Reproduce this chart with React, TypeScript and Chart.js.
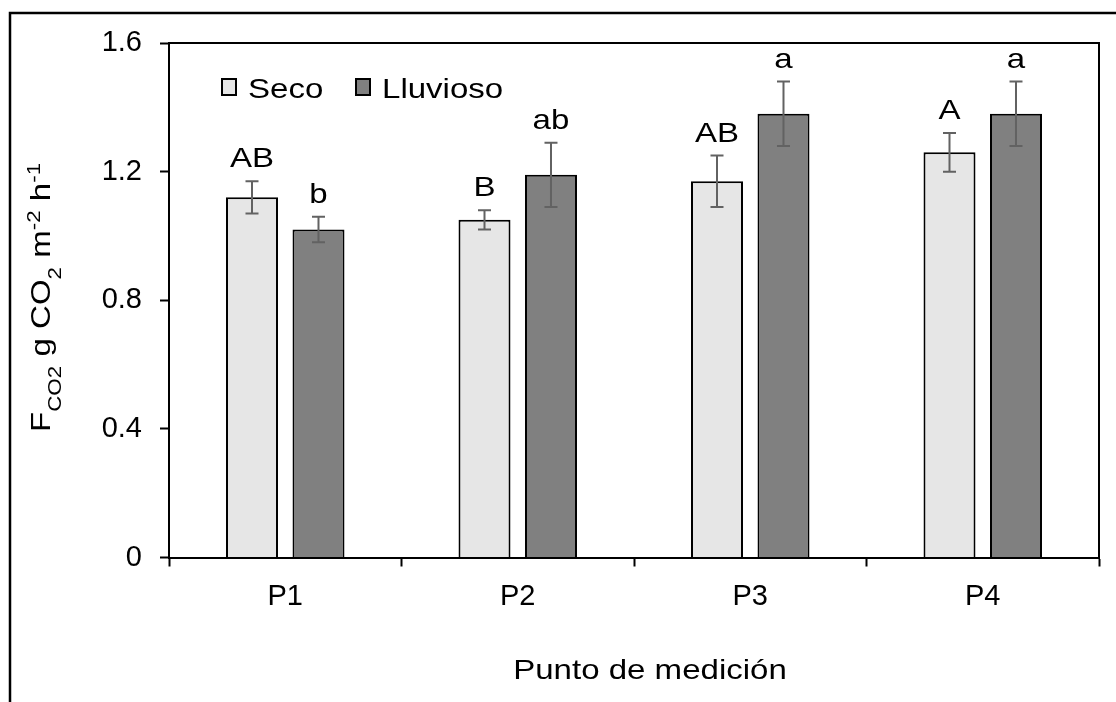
import React, { useEffect, useRef } from 'react';
import { Chart, registerables } from 'chart.js';

Chart.register(...registerables);

// ---- data ----
const categories = ['P1', 'P2', 'P3', 'P4'];
const seriesNames = ['Seco', 'Lluvioso'];
const secoValues = [1.12, 1.05, 1.17, 1.26];
const lluviosoValues = [1.02, 1.19, 1.38, 1.38];
const secoErrors = [0.05, 0.03, 0.08, 0.06];
const lluviosoErrors = [0.04, 0.10, 0.10, 0.10];
const secoLetters = ['AB', 'B', 'AB', 'A'];
const lluviosoLetters = ['b', 'ab', 'a', 'a'];
const yTickValues = [0, 0.4, 0.8, 1.2, 1.6];
const yTickLabels = ['0', '0.4', '0.8', '1.2', '1.6'];
const xTitle = 'Punto de medición';
const yTitleParts = [
  { text: 'F', kind: 'main' },
  { text: 'CO2', kind: 'sub' },
  { text: ' g CO', kind: 'main' },
  { text: '2', kind: 'sub' },
  { text: ' m', kind: 'main' },
  { text: '-2', kind: 'sup' },
  { text: ' h', kind: 'main' },
  { text: '-1', kind: 'sup' },
];

const FAMILY = '"Liberation Sans", Arial, sans-serif';
const SX = 1.18; // horizontal widening of text
const MAIN = 28;
const SMALL = 19;

function drawText(ctx: CanvasRenderingContext2D, text: string, x: number, y: number, align: CanvasTextAlign, size = MAIN) {
  ctx.save();
  ctx.font = `${size}px ${FAMILY}`;
  ctx.fillStyle = '#000';
  ctx.textBaseline = 'alphabetic';
  ctx.textAlign = align;
  ctx.translate(x, y);
  ctx.scale(SX, 1);
  ctx.fillText(text, 0, 0);
  ctx.restore();
}

const decorPlugin = {
  id: 'decor',
  afterDatasetsDraw(chart: any) {
    const ctx: CanvasRenderingContext2D = chart.ctx;
    const ys = chart.scales.y;
    chart.data.datasets.forEach((ds: any, i: number) => {
      const meta = chart.getDatasetMeta(i);
      meta.data.forEach((bar: any, j: number) => {
        const v = ds.data[j];
        const e = ds.errors[j];
        const x = bar.x;
        const yt = ys.getPixelForValue(v + e);
        const yb = ys.getPixelForValue(v - e);
        ctx.save();
        ctx.strokeStyle = '#626262';
        ctx.lineWidth = 2;
        ctx.beginPath();
        ctx.moveTo(x, yt);
        ctx.lineTo(x, yb);
        ctx.moveTo(x - 6.5, yt);
        ctx.lineTo(x + 6.5, yt);
        ctx.moveTo(x - 6.5, yb);
        ctx.lineTo(x + 6.5, yb);
        ctx.stroke();
        ctx.restore();
        drawText(ctx, ds.letters[j], x, yt - 14, 'center');
      });
    });
  },
  afterDraw(chart: any) {
    const ctx: CanvasRenderingContext2D = chart.ctx;
    const a = chart.chartArea;
    // plot box top & right
    ctx.save();
    ctx.strokeStyle = '#000';
    ctx.lineWidth = 2;
    ctx.beginPath();
    ctx.moveTo(a.left, a.top);
    ctx.lineTo(a.right, a.top);
    ctx.lineTo(a.right, a.bottom);
    ctx.stroke();
    // outer frame (left & top)
    ctx.lineWidth = 2.5;
    ctx.beginPath();
    ctx.moveTo(10, chart.height);
    ctx.lineTo(10, 13);
    ctx.lineTo(chart.width, 13);
    ctx.stroke();
    ctx.restore();

    // legend
    const fills = chart.data.datasets.map((d: any) => d.backgroundColor);
    const boxX = [a.left + 53, a.left + 187];
    const textX = [a.left + 79, a.left + 213];
    seriesNames.forEach((name, i) => {
      ctx.save();
      ctx.fillStyle = fills[i];
      ctx.strokeStyle = '#000';
      ctx.lineWidth = 2;
      ctx.fillRect(boxX[i], a.top + 36, 14, 16);
      ctx.strokeRect(boxX[i], a.top + 36, 14, 16);
      ctx.restore();
      drawText(ctx, name, textX[i], a.top + 54.5, 'left');
    });

    // x title
    drawText(ctx, xTitle, 650, 679, 'center');

    // y title (rotated, with sub/superscripts)
    ctx.save();
    ctx.translate(50, 432);
    ctx.rotate(-Math.PI / 2);
    ctx.scale(SX, 1);
    ctx.fillStyle = '#000';
    ctx.textAlign = 'left';
    ctx.textBaseline = 'alphabetic';
    let cx = 0;
    yTitleParts.forEach((p) => {
      const size = p.kind === 'main' ? MAIN : SMALL;
      const dy = p.kind === 'sub' ? 11 : p.kind === 'sup' ? -10 : 0;
      ctx.font = `${size}px ${FAMILY}`;
      ctx.fillText(p.text, cx, dy);
      cx += ctx.measureText(p.text).width;
    });
    ctx.restore();
  },
};

export default function App() {
  const ref = useRef<HTMLCanvasElement>(null);
  useEffect(() => {
    if (!ref.current) return;
    const chart = new Chart(ref.current, {
      type: 'bar',
      data: {
        labels: categories,
        datasets: [
          {
            label: seriesNames[0],
            data: secoValues,
            errors: secoErrors,
            letters: secoLetters,
            backgroundColor: '#E6E6E6',
            borderColor: '#000',
            borderWidth: 2,
            categoryPercentage: 0.572,
            barPercentage: 0.782,
          } as any,
          {
            label: seriesNames[1],
            data: lluviosoValues,
            errors: lluviosoErrors,
            letters: lluviosoLetters,
            backgroundColor: '#808080',
            borderColor: '#000',
            borderWidth: 2,
            categoryPercentage: 0.572,
            barPercentage: 0.782,
          } as any,
        ],
      },
      options: {
        responsive: false,
        animation: false,
        devicePixelRatio: 1,
        layout: { padding: { top: 43, right: 17, left: 0, bottom: 0 } },
        plugins: { legend: { display: false }, tooltip: { enabled: false } },
        scales: {
          x: {
            offset: true,
            grid: {
              offset: true,
              drawOnChartArea: false,
              drawTicks: true,
              tickLength: 9,
              tickWidth: 2,
              tickColor: '#000',
            },
            border: { display: true, color: '#000', width: 2 },
            ticks: {
              color: '#000',
              font: { family: FAMILY, size: 29 },
              padding: 13,
              maxRotation: 0,
              autoSkip: false,
            },
            afterFit: (s: any) => {
              s.height = 144.5;
            },
          },
          y: {
            min: 0,
            max: 1.6,
            afterBuildTicks: (s: any) => {
              s.ticks = yTickValues.map((v) => ({ value: v }));
            },
            grid: {
              drawOnChartArea: false,
              drawTicks: true,
              tickLength: 9,
              tickWidth: 2,
              tickColor: '#000',
            },
            border: { display: true, color: '#000', width: 2 },
            ticks: {
              color: '#000',
              font: { family: FAMILY, size: 29 },
              padding: 18,
              callback: (_v: any, i: number) => yTickLabels[i],
            },
            afterFit: (s: any) => {
              s.width = 169;
            },
          },
        },
      } as any,
      plugins: [decorPlugin],
    });
    return () => chart.destroy();
  }, []);

  return (
    <div style={{ position: 'absolute', left: 0, top: 0, width: 1116, height: 702, background: '#fff' }}>
      <canvas ref={ref} width={1116} height={702} style={{ display: 'block' }} />
    </div>
  );
}
